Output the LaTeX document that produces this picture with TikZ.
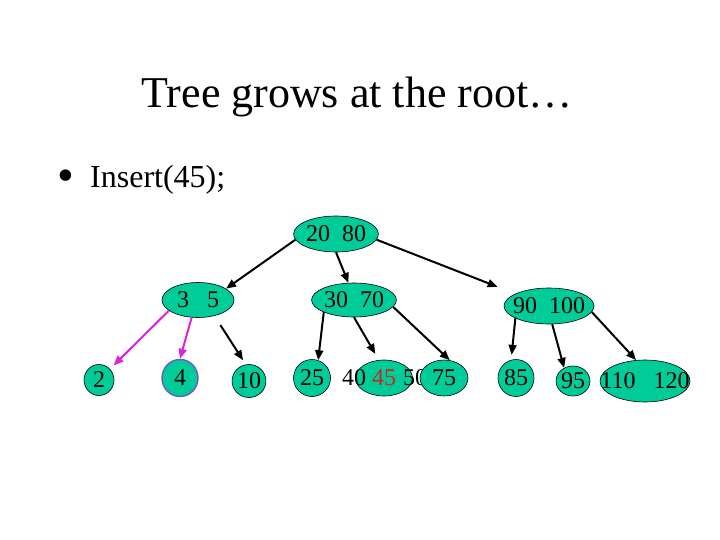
\documentclass[tikz,border=0pt]{standalone}
\usepackage{fontspec}
\setmainfont{Liberation Serif}
\usetikzlibrary{arrows.meta, shapes.geometric, positioning}

\definecolor{keyfill}{RGB}{0,204,153}
\definecolor{hotpink}{RGB}{221,34,221}
\definecolor{slate}{RGB}{110,95,200}
\definecolor{newkey}{RGB}{200,40,30}

\begin{document}
\begin{tikzpicture}[
        x = 1pt, y = -1pt, on grid,
        >= {Triangle[length = 10pt, width = 8pt]},
        key/.style = {ellipse, draw = black, line width = 0.6pt, fill = keyfill, inner sep = 0pt,
                      font = \fontsize{24}{28}\selectfont},
        txt/.style = {inner sep = 0pt, font = \fontsize{24}{28}\selectfont},
        link/.style = {->, line width = 2pt},
        hot/.style = {draw = hotpink}
    ]
        \useasboundingbox (0,0) rectangle (720,540);

        \node[anchor = base, font = \fontsize{44}{50}\selectfont] (title) at (357,108) {Tree grows at the root…};
        \node[anchor = base, inner sep = 0pt, font = \fontsize{48}{52}\selectfont] (bullet) at (66,192) {•};
        \node[anchor = base west, inner sep = 0pt, font = \fontsize{32}{36}\selectfont] (insert) at (90,188) {Insert(45);};

        % inner keys
        \node[key, minimum width = 84pt, minimum height = 36pt] (root) at (336,234) {20\ \ 80};
        \node[key, minimum width = 72pt, minimum height = 35pt] (k35) [below left = 66pt and 138pt of root] {3\ \ \ 5};
        \node[key, minimum width = 84pt, minimum height = 34pt] (k3070) [below right = 66pt and 18pt of root] {30\ \ 70};
        \node[key, minimum width = 90pt, minimum height = 36pt, inner xsep = -12pt] (k90) [below right = 72pt and 213pt of root] {90\ \ 100};

        % leaves
        \node[key, minimum width = 30pt, minimum height = 31pt] (l2) [below left = 80pt and 99pt of k35] {2};
        \node[key, draw = slate, line width = 1.5pt, minimum width = 36pt, minimum height = 37pt] (l4) [below left = 78pt and 18pt of k35] {4};
        \node[key, minimum width = 31pt, minimum height = 33pt] (l10) [below right = 81pt and 51pt of k35] {10};
        \node[key, minimum width = 37pt, minimum height = 37pt] (l25) [below left = 78pt and 42pt of k3070] {25};
        \node[key, text = newkey, minimum width = 57pt, minimum height = 36pt] (l45) [below right = 78pt and 30pt of k3070] {45};
        \node[txt] (t40) [left = 30pt of l45] {40};
        \node[txt] (t50) [right = 31pt of l45] {50};
        \node[key, minimum width = 48pt, minimum height = 36pt] (l75) [below right = 78pt and 90pt of k3070] {75};
        \node[key, minimum width = 36pt, minimum height = 37pt] (l85) [below left = 72pt and 33pt of k90] {85};
        \node[key, minimum width = 29pt, minimum height = 30pt] (l95) [below right = 75pt and 24pt of k90] {95};
        \node[key, minimum width = 90pt, minimum height = 42pt, inner xsep = -15pt] (l110) [below right = 75pt and 96pt of k90] {110\ \ \ 120};

        \path[link]
          (root.188) edge (k35.22)
          (root.270) edge (k3070.108)
          (root.352) edge [shorten > = 19pt] (k90.160)
          (k35.200) edge [hot, shorten > = 5pt] (l2.45)
          (k35.250) edge [hot] (l4.north)
          (k35.316) edge [shorten < = 11pt, shorten > = 5pt] (l10.101)
          (k3070.202) edge (l25.71)
          (k3070.270) edge [shorten > = 7pt] (l45.106)
          (k3070.350) edge (l75.72)
          (k90.200) edge [shorten > = 5pt] (l85.105)
          (k90.280) edge (l95.124)
          (k90.352) edge (l110.113);
    \end{tikzpicture}
\end{document}
